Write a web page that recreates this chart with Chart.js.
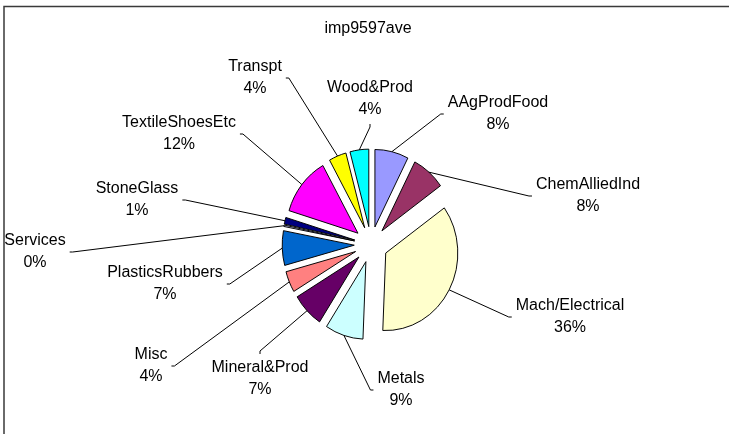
<!DOCTYPE html>
<html>
<head>
<meta charset="utf-8">
<title>imp9597ave</title>
<script src="https://cdn.jsdelivr.net/npm/chart.js@4.4.1/dist/chart.umd.min.js"></script>
<style>
  html, body { margin: 0; padding: 0; background: #fff; }
  #wrap { position: relative; width: 729px; height: 434px; overflow: hidden; }
</style>
</head>
<body>
<div id="wrap"><canvas id="pieChart" width="729" height="434"></canvas></div>
<script>
// === DATA ===
const chartTitle = "imp9597ave";
const categories = ["AAgProdFood", "ChemAlliedInd", "Mach/Electrical", "Metals", "Mineral&Prod", "Misc",
  "PlasticsRubbers", "Services", "StoneGlass", "TextileShoesEtc", "Transpt", "Wood&Prod"];
const shares = [7.55, 7.55, 35.55, 8.55, 7.2, 4.4, 7.2, 0.3, 1.4, 12.2, 3.9, 4.2];

// === STYLE / LAYOUT ===
const sliceColors = ["#9999FF", "#993366", "#FFFFCC", "#CCFFFF", "#660066", "#FF8080",
  "#0066CC", "#CCCCFF", "#000080", "#FF00FF", "#FFFF00", "#00FFFF"];
// centre of each two-line label block
const labelSpots = [[498, 114], [588, 196], [570, 317], [401, 390], [260, 379], [151, 366],
  [165, 284], [35, 252], [137, 200], [179, 134], [255, 78], [370, 99]];
const PIE_RADIUS = 77.5;
const EXPLODE = 18;      // distance every slice is pulled out
const SQUEEZE_X = 0.93;  // source picture is slightly compressed horizontally
const FONT = "16px 'Liberation Sans', Arial, sans-serif";

// === Exploded pie + leader labels ===
const explodedPie = {
  id: "explodedPie",
  beforeDraw(chart) {
    const ctx = chart.ctx;
    ctx.save();
    ctx.strokeStyle = "#3a3a3a";
    ctx.lineWidth = 1.5;
    ctx.beginPath();
    ctx.moveTo(4, 434);
    ctx.lineTo(4, 6.5);
    ctx.lineTo(729, 6.5);
    ctx.stroke();
    ctx.font = FONT;
    ctx.fillStyle = "#000";
    ctx.textAlign = "center";
    ctx.textBaseline = "middle";
    ctx.fillText(chartTitle, 368, 29);
    ctx.restore();
  },
  beforeDatasetDraw(chart, args) {
    const ctx = chart.ctx;
    const arcs = args.meta.data;
    const cx = arcs[0].x, cy = arcs[0].y;
    ctx.save();
    ctx.translate(cx, cy);
    ctx.scale(SQUEEZE_X, 1);
    ctx.translate(-cx, -cy);
    arcs.forEach((arc) => {
      const mid = (arc.startAngle + arc.endAngle) / 2;
      ctx.save();
      ctx.translate(Math.cos(mid) * EXPLODE, Math.sin(mid) * EXPLODE);
      arc.draw(ctx);
      ctx.restore();
    });
    ctx.restore();
    return false; // default draw skipped, done above
  },
  afterDatasetsDraw(chart) {
    const ctx = chart.ctx;
    const arcs = chart.getDatasetMeta(0).data;
    const total = shares.reduce((a, b) => a + b, 0);
    ctx.save();
    ctx.font = FONT;
    ctx.fillStyle = "#000";
    ctx.strokeStyle = "#000";
    ctx.lineWidth = 1;
    ctx.textAlign = "center";
    ctx.textBaseline = "middle";
    arcs.forEach((arc, i) => {
      const mid = (arc.startAngle + arc.endAngle) / 2;
      const r = arc.outerRadius + EXPLODE;
      const px = arc.x + SQUEEZE_X * r * Math.cos(mid);
      const py = arc.y + r * Math.sin(mid);
      const [lx, ly] = labelSpots[i];
      const name = categories[i];
      const pct = Math.round((shares[i] / total) * 100) + "%";
      const w = Math.max(ctx.measureText(name).width, ctx.measureText(pct).width);
      const left = lx - w / 2, right = lx + w / 2;

      // leader line: slice edge -> label box, with a short tick
      let ex, ey, tx, ty;
      if (px < left - 5) { ex = left - 7; ey = ly; tx = left - 4; ty = ly; }
      else if (px > right + 5) { ex = right + 7; ey = ly; tx = right + 4; ty = ly; }
      else if (py > ly) { ex = lx; ey = ly + 28; tx = lx; ty = ly + 25; }
      else { ex = lx; ey = ly - 28; tx = lx; ty = ly - 25; }
      ctx.beginPath();
      ctx.moveTo(px, py);
      ctx.lineTo(ex, ey);
      ctx.lineTo(tx, ty);
      ctx.stroke();

      ctx.fillText(name, lx, ly - 11);
      ctx.fillText(pct, lx, ly + 11);
    });
    ctx.restore();
  }
};

new Chart(document.getElementById("pieChart"), {
  type: "pie",
  data: {
    labels: categories,
    datasets: [{
      data: shares,
      backgroundColor: sliceColors,
      borderColor: "#000",
      borderWidth: 1
    }]
  },
  options: {
    responsive: false,
    animation: false,
    radius: PIE_RADIUS,
    events: [],
    layout: { padding: { left: 13, right: 0, top: 55, bottom: 0 } },
    plugins: {
      legend: { display: false },
      tooltip: { enabled: false },
      title: { display: false }
    }
  },
  plugins: [explodedPie]
});
</script>
</body>
</html>
